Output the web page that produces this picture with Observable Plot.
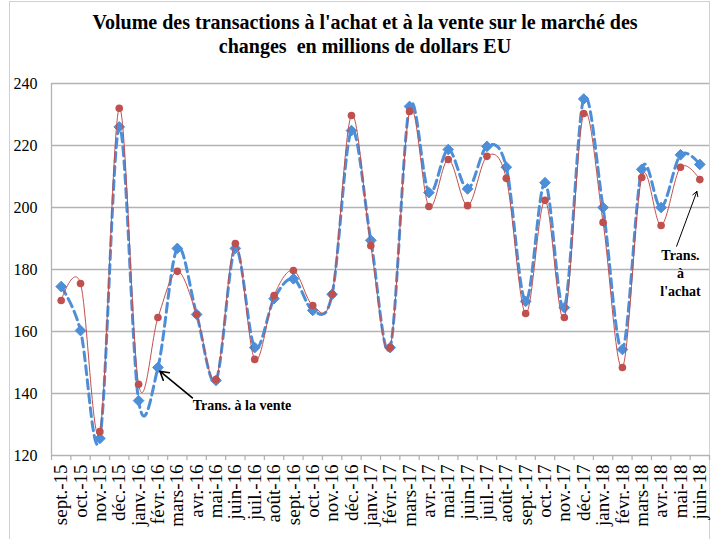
<!DOCTYPE html>
<html>
<head>
<meta charset="utf-8">
<script src="https://cdn.jsdelivr.net/npm/d3@7"></script>
<script src="https://cdn.jsdelivr.net/npm/@observablehq/plot@0.6"></script>
<style>
  html, body { margin: 0; padding: 0; background: #fff; overflow: hidden; }
  #wrap { position: relative; width: 721px; height: 539px; font-family: "Liberation Serif", serif; overflow: hidden; }
  #frame { position: absolute; left: 9px; top: 1px; width: 701px; height: 560px; border: 1px solid #d0d0d0; box-sizing: border-box; pointer-events: none; }
  #title { position: absolute; left: 0; top: 10px; width: 730px; text-align: center; font-weight: bold; font-size: 20px; line-height: 24px; color: #000; font-family: "Liberation Serif", serif; }
  svg { position: absolute; left: 0; top: 0; }
</style>
</head>
<body>
<div id="wrap">
  <div id="frame"></div>
  <div id="title">Volume des transactions à l'achat et à la vente sur le marché des<br>changes&nbsp; en millions de dollars EU</div>
</div>
<script>
const months = ["sept.-15","oct.-15","nov.-15","déc.-15","janv.-16","févr.-16","mars-16","avr.-16","mai-16","juin-16","juil.-16","août-16","sept.-16","oct.-16","nov.-16","déc.-16","janv.-17","févr.-17","mars-17","avr.-17","mai-17","juin-17","juil.-17","août-17","sept.-17","oct.-17","nov.-17","déc.-17","janv.-18","févr.-18","mars-18","avr.-18","mai-18","juin-18"];
const achat = [170,175.5,127.7,232,143,164.5,179.4,165.5,144.5,188.4,151,171.6,179.7,168.4,172,229.7,187.7,154.8,231,200.3,215.5,200.6,216.5,209.4,165.8,202.3,164.5,230.3,195.2,148.4,209.7,194.2,213,209];
const vente = [174.5,160.3,125.5,226,137.7,148.4,186.8,165.5,144.2,186.8,154.8,170.6,177,166.8,172,224.8,189.4,154.8,232.6,204.8,218.7,206,219.7,213,169.7,208,167.7,235,200,154.2,212.3,200,217,213.9];
const yTicks = [120,140,160,180,200,220,240];

const dA = achat.map((v,i) => ({i, v}));
const dV = vente.map((v,i) => ({i, v}));
const blue = "#4d8ed9", red = "#c0504d", grid = "#b3b3b3";
const ff = "'Liberation Serif', serif";

const chart = Plot.plot({
  width: 721, height: 539,
  marginLeft: 51, marginRight: 12, marginTop: 83, marginBottom: 84,
  style: "font-family: 'Liberation Serif', serif; background: transparent; overflow: visible;",
  x: {type: "linear", domain: [-0.5, 33.5], axis: null},
  y: {domain: [120, 240], axis: null},
  marks: [
    Plot.ruleY(yTicks, {stroke: grid, strokeWidth: 1.3}),
    Plot.ruleX([-0.5], {stroke: grid, strokeWidth: 1.3}),
    Plot.axisX({ticks: d3.range(-0.5, 34, 1), tickFormat: () => "", tickSize: 5, stroke: grid, strokeWidth: 1.3}),
    Plot.axisX({ticks: d3.range(0, 34), tickFormat: i => months[i], tickSize: 0, tickPadding: 9, tickRotate: -90, fontSize: 19, fill: "#000", fontFamily: ff}),
    Plot.axisY({ticks: yTicks, tickSize: 0, tickPadding: 14, fontSize: 16, fill: "#000", fontFamily: ff}),
    Plot.line(dV, {x: "i", y: "v", curve: "cardinal", stroke: blue, strokeWidth: 3, strokeDasharray: "9,5"}),
    Plot.dot(dV, {x: "i", y: "v", symbol: "diamond2", r: 4.8, fill: blue, stroke: blue, strokeWidth: 1}),
    Plot.line(dA, {x: "i", y: "v", curve: "cardinal", stroke: red, strokeWidth: 1}),
    Plot.dot(dA, {x: "i", y: "v", r: 3.8, fill: red, stroke: "none"}),
    Plot.arrow([{x1: 6.78, y1: 138.6, x2: 5.1, y2: 147.2}], {x1: "x1", y1: "y1", x2: "x2", y2: "y2", stroke: "#000", strokeWidth: 1.6, headLength: 9, bend: 0}),
    Plot.text([{x: 6.8, y: 136, t: "Trans. à la vente"}], {x: "x", y: "y", text: "t", textAnchor: "start", fontSize: 14, fontWeight: "bold", fill: "#000", fontFamily: ff}),
    Plot.arrow([{x1: 31.8, y1: 187.5, x2: 32.85, y2: 205.2}], {x1: "x1", y1: "y1", x2: "x2", y2: "y2", stroke: "#000", strokeWidth: 1, headLength: 8, bend: 0}),
    Plot.text([{x: 32.0, y: 179, t: "Trans.\nà\nl'achat"}], {x: "x", y: "y", text: "t", textAnchor: "middle", lineAnchor: "middle", lineHeight: 1.28, fontSize: 14, fontWeight: "bold", fill: "#000", fontFamily: ff})
  ]
});
document.getElementById("wrap").appendChild(chart);
</script>
</body>
</html>
